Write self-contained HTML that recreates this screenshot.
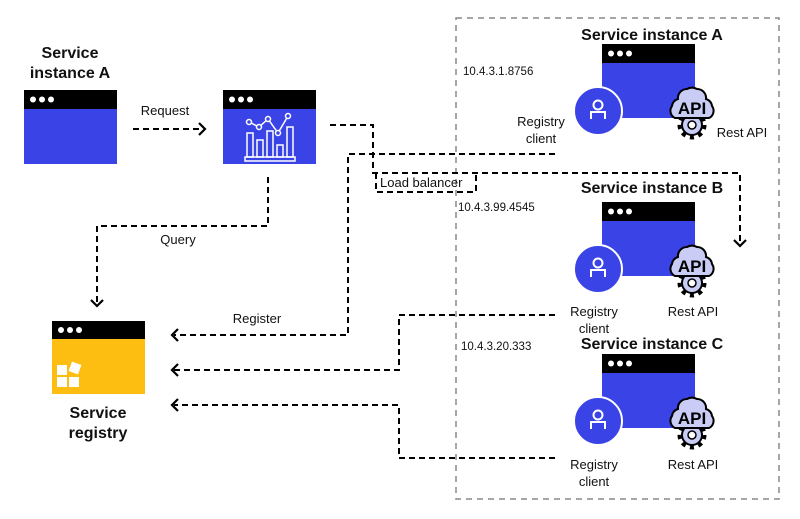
<!DOCTYPE html>
<html><head><meta charset="utf-8"><style>
html,body{margin:0;padding:0;background:#fff}
svg{display:block}
text{font-family:"Liberation Sans",sans-serif;fill:#111}
.b{font-weight:bold;font-size:16px}
.s{font-size:13px}
.ip{font-size:11.5px}
.api{font-weight:bold;font-size:17px;fill:#000}
.d{fill:none;stroke:#000;stroke-width:2;stroke-dasharray:6 4}
.ah{fill:none;stroke:#000;stroke-width:2.2}
</style></head><body>
<svg width="800" height="519" viewBox="0 0 800 519" xmlns="http://www.w3.org/2000/svg">
<defs>
<g id="win">
<rect x="0" y="0" width="93" height="74" fill="#3A44E6"/>
<rect x="0" y="0" width="93" height="19" fill="#000"/>
<circle cx="9" cy="9.5" r="3" fill="#fff"/><circle cx="18" cy="9.5" r="3" fill="#fff"/><circle cx="27" cy="9.5" r="3" fill="#fff"/>
</g>
<g id="inst">
<use href="#win"/>
<circle cx="-4" cy="67" r="24" fill="#3A44E6" stroke="#fff" stroke-width="2"/>
<circle cx="-4" cy="61" r="4.5" fill="none" stroke="#fff" stroke-width="2"/>
<path d="M-11 75 V68 H3 V75" fill="none" stroke="#fff" stroke-width="2"/>
<g transform="translate(90,64)">
<circle cx="0" cy="17" r="12" fill="none" stroke="#000" stroke-width="5" stroke-dasharray="4 4.4"/>
<circle cx="0" cy="17" r="10" fill="#C9CCF5" stroke="#000" stroke-width="2"/>
<circle cx="0" cy="17" r="4" fill="#fff" stroke="#000" stroke-width="1.5"/>
<path d="M-17 10 a8 8 0 0 1 -3 -12 a8 8 0 0 1 6 -7 a9 9 0 0 1 9 -10 a10 10 0 0 1 10 0 a9 9 0 0 1 9 10 a8 8 0 0 1 6 7 a8 8 0 0 1 -3 12 z" fill="#C9CCF5" stroke="#000" stroke-width="2"/>
</g>
</g>
</defs>

<!-- container -->
<rect x="456" y="18" width="323" height="481" fill="none" stroke="#888" stroke-width="1.5" stroke-dasharray="6 5"/>

<!-- left window -->
<text class="b" x="70" y="58" text-anchor="middle">Service</text>
<text class="b" x="70" y="78" text-anchor="middle">instance A</text>
<use href="#win" x="24" y="90"/>

<!-- middle window -->
<use href="#win" x="223" y="90"/>
<g fill="none" stroke="#fff" stroke-width="1.5">
<rect x="247" y="133" width="6" height="24"/><rect x="257" y="140" width="6" height="17"/><rect x="267" y="131" width="6" height="26"/><rect x="277" y="145" width="6" height="12"/><rect x="287" y="127" width="6" height="30"/>
<rect x="245" y="157" width="50" height="4"/>
<polyline points="249,122 259,127 268,119 278,133 288,116"/>
</g>
<g fill="#3A44E6" stroke="#fff" stroke-width="1.5">
<circle cx="249" cy="122" r="2.5"/><circle cx="259" cy="127" r="2.5"/><circle cx="268" cy="119" r="2.5"/><circle cx="278" cy="133" r="2.5"/><circle cx="288" cy="116" r="2.5"/>
</g>

<!-- request -->
<text class="s" x="165" y="115" text-anchor="middle">Request</text>
<line class="d" x1="133" y1="129" x2="202" y2="129"/>
<polyline class="ah" points="199,123 205,129 199,135"/>

<!-- query -->
<polyline class="d" points="268,177 268,226 97,226 97,303"/>
<polyline class="ah" points="91,300 97,306 103,300"/>
<text class="s" x="178" y="244" text-anchor="middle">Query</text>

<!-- load balancer -->
<polyline class="d" points="330,125 373,125 373,173 740,173 740,243"/>
<polyline class="ah" points="734,240 740,246 746,240"/>
<polyline class="d" points="376,173 376,192 476,192 476,173"/>
<text x="380" y="187" style="font-size:13px">Load balancer</text>

<!-- register A -->
<polyline class="d" points="555,154 348,154 348,335 174,335"/>
<polyline class="ah" points="178,329 172,335 178,341"/>
<text class="s" x="257" y="323" text-anchor="middle">Register</text>
<!-- register B -->
<polyline class="d" points="555,315 399,315 399,370 174,370"/>
<polyline class="ah" points="178,364 172,370 178,376"/>
<!-- register C -->
<polyline class="d" points="555,458 399,458 399,405 174,405"/>
<polyline class="ah" points="178,399 172,405 178,411"/>

<!-- service registry -->
<rect x="52" y="321" width="93" height="73" fill="#FDBE11"/>
<rect x="52" y="321" width="93" height="18" fill="#000"/>
<circle cx="61" cy="330" r="3" fill="#fff"/><circle cx="70" cy="330" r="3" fill="#fff"/><circle cx="79" cy="330" r="3" fill="#fff"/>
<rect x="57" y="365" width="10" height="10" fill="#fff"/><rect x="57" y="377" width="10" height="10" fill="#fff"/><rect x="69" y="377" width="10" height="10" fill="#fff"/>
<rect x="70" y="363" width="10" height="10" fill="#fff" transform="rotate(20 75 368)"/>
<text class="b" x="98" y="418" text-anchor="middle">Service</text>
<text class="b" x="98" y="438" text-anchor="middle">registry</text>

<!-- instance A -->
<text class="b" x="652" y="40" text-anchor="middle">Service instance A</text>
<use href="#inst" x="602" y="44"/>
<text class="api" x="692" y="114" text-anchor="middle">API</text>
<text class="ip" x="463" y="75">10.4.3.1.8756</text>
<text class="s" x="541" y="126" text-anchor="middle">Registry</text>
<text class="s" x="541" y="143" text-anchor="middle">client</text>
<text class="s" x="742" y="137" text-anchor="middle">Rest API</text>

<!-- instance B -->
<text class="b" x="652" y="193" text-anchor="middle">Service instance B</text>
<use href="#inst" x="602" y="202"/>
<text class="api" x="692" y="272" text-anchor="middle">API</text>
<text class="ip" x="458" y="211">10.4.3.99.4545</text>
<text class="s" x="594" y="316" text-anchor="middle">Registry</text>
<text class="s" x="594" y="333" text-anchor="middle">client</text>
<text class="s" x="693" y="316" text-anchor="middle">Rest API</text>

<!-- instance C -->
<text class="b" x="652" y="349" text-anchor="middle">Service instance C</text>
<use href="#inst" x="602" y="354"/>
<text class="api" x="692" y="424" text-anchor="middle">API</text>
<text class="ip" x="461" y="350">10.4.3.20.333</text>
<text class="s" x="594" y="469" text-anchor="middle">Registry</text>
<text class="s" x="594" y="486" text-anchor="middle">client</text>
<text class="s" x="693" y="469" text-anchor="middle">Rest API</text>
</svg>
</body></html>
